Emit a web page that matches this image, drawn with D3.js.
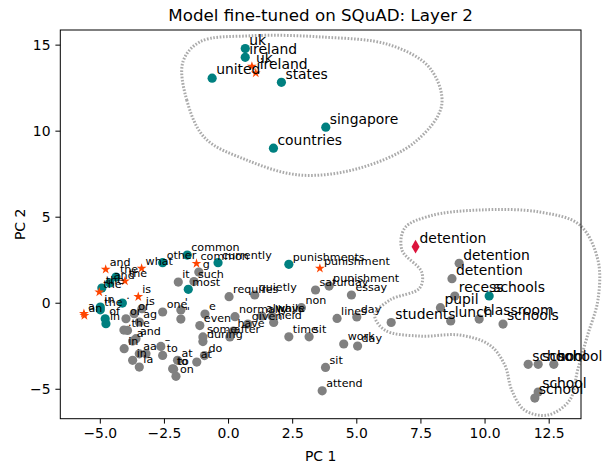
<!DOCTYPE html>
<html><head><meta charset="utf-8">
<script src="https://cdn.jsdelivr.net/npm/d3@7"></script>
<style>body{margin:0;background:#fff} svg{display:block;font-family:"DejaVu Sans",sans-serif}</style>
</head><body><svg id="c" width="605" height="466"></svg>
<script>
// ---- data ----
const words = ["uk","ireland","uk","ireland","united","states","singapore","countries",
"detention","detention","detention","recess","schools","pupil","lunch","classroom","schools","students","school","school","school","school","school",
"punishments","punishment","punishment","saturday","essay","non","lines","day","time","sit","work","day","sit","attend","quietly","requires","currently","common","common","g","such","it","most","other","what","and",
"normally","always","while","given","held","have","e","even","some","after","during","do","at","to","at","to","to","on",
"the","and","the","the","the","in","the","of","in","a","an","is","is",".","or","or","ag","one","'","\"",".","the","and","a","in","a","a","–","in","la"];
const pc1 = [0.67,0.67,0.93,1.08,-0.62,2.08,3.81,1.77,
7.31,9.01,8.73,8.84,10.18,8.28,8.68,9.79,10.72,6.36,11.70,12.09,12.70,12.09,11.96,
2.37,3.58,3.94,3.41,4.81,2.86,4.25,5.02,2.37,3.16,4.51,5.05,3.80,3.67,1.04,0.04,-0.39,-1.59,-1.23,-1.14,-1.33,-1.94,-1.55,-2.55,-3.37,-4.77,
0.27,1.32,1.71,0.77,1.78,0.21,-0.90,-1.10,-0.98,0.07,-0.98,-0.92,-1.22,-2.55,-1.97,-2.16,-2.12,-2.03,
-4.37,-4.61,-4.02,-4.92,-5.02,-4.98,-4.98,-4.79,-4.76,-5.62,-5.60,-3.50,-3.36,-4.12,-3.98,-3.66,-3.46,-2.55,-1.84,-1.84,-4.06,-3.92,-3.59,-3.72,-4.05,-3.46,-3.20,-2.62,-3.72,-3.46];
const pc2 = [14.77,14.26,13.74,13.35,13.05,12.81,10.20,8.98,
3.26,2.29,1.40,0.39,0.39,-0.29,-1.06,-0.95,-1.24,-1.15,-3.58,-3.58,-3.58,-5.19,-5.54,
2.23,2.00,0.97,0.74,0.45,-0.29,-0.91,-0.83,-1.98,-1.98,-2.40,-2.52,-3.76,-5.12,0.45,0.35,2.33,2.77,2.28,1.78,1.23,1.20,0.78,2.33,2.00,1.94,
-0.81,-0.77,-0.77,-1.24,-1.15,-1.65,-0.66,-1.33,-1.99,-1.99,-2.26,-3.07,-3.45,-3.06,-3.35,-3.84,-3.86,-4.28,
1.49,1.15,1.26,0.85,0.62,-0.25,-0.41,-0.93,-1.22,-0.63,-0.75,0.35,-0.35,-0.02,-0.93,-0.64,-1.12,-0.54,-0.42,-0.95,-1.59,-1.61,-2.09,-2.23,-2.67,-2.97,-2.97,-2.54,-3.35,-3.74];
// kind: g = other context, t = related token, s = query word, d = target word
const kinds = ["t","t","s","s","t","t","t","t",
"d","g","g","g","t","g","g","g","g","g","g","g","g","g","g",
"t","s","g","g","g","g","g","g","g","g","g","g","g","g","g","g","t","t","s","g","g","g","t","t","s","s",
"g","g","g","g","g","g","g","g","g","g","g","g","g","g","g","g","g","g",
"t","t","s","t","s","t","t","t","t","s","s","s","g","t","g","g","g","g","g","g","g","g","g","g","g","g","g","g","g","g"];
// cluster membership (1 = inside a highlighted cluster)
const inCluster = words.map((w,i)=> i < 23 ? 1 : 0);
const xTicks = [-5,-2.5,0,2.5,5,7.5,10,12.5];
const yTicks = [-5,0,5,10,15];
const loopUpperX = [-1.76,-1.61,-0.90,0.73,2.80,5.14,7.29,8.33,7.86,6.31,3.58,0.85,-1.10];
const loopUpperY = [13.99,11.78,9.57,8.29,7.42,7.83,9.34,11.49,13.65,14.98,15.45,15.51,15.16];
const loopRightX = [6.31,7.47,7.55,6.78,6.89,7.86,9.81,12.15,13.71,14.42,14.42,14.02,13.63,13.32,12.46,11.56,11.06,10.79,10.20,9.03,7.47,6.11,5.72];
const loopRightY = [0.16,0.85,1.78,3.06,4.34,5.04,5.39,5.27,4.52,2.48,0.16,-1.87,-3.91,-5.66,-6.53,-6.24,-5.08,-3.62,-2.46,-1.88,-1.94,-1.59,-0.72];

// ---- chart ----
const svg = d3.select("#c");
const L = 60.3, R = 581, T = 30, B = 418.7;
const x = d3.scaleLinear().domain([-6.54, 13.76]).range([L, R]);
const y = d3.scaleLinear().domain([-6.74, 15.85]).range([B, T]);
const colors = {g:"#808080", t:"#008080", s:"#ff4500", d:"#dc143c"};

const pts = words.map((w,i)=>({w, x:pc1[i], y:pc2[i], k:kinds[i], c:inCluster[i]}));

const gPts = svg.append("g");
["g","t","s","d"].forEach(k=>{
  pts.filter(p=>p.k===k).forEach(p=>{
    const px = x(p.x), py = y(p.y);
    if (k==="g"||k==="t") {
      gPts.append("circle").attr("cx",px).attr("cy",py).attr("r",4.6).attr("fill",colors[k]);
    } else if (k==="s") {
      gPts.append("path").attr("d", d3.symbol().type(d3.symbolStar).size(30)())
        .attr("transform",`translate(${px},${py})`).attr("fill",colors[k]);
    } else {
      gPts.append("path").attr("d","M0,-6.8L4,0L0,6.8L-4,0Z")
        .attr("transform",`translate(${px},${py})`).attr("fill",colors[k]);
    }
  });
});

// loops
const line = d3.line().x(d=>x(d[0])).y(d=>y(d[1])).curve(d3.curveCatmullRomClosed.alpha(0.5));
[[loopUpperX,loopUpperY],[loopRightX,loopRightY]].forEach(([lx,ly])=>{
  svg.append("path").attr("d", line(lx.map((v,i)=>[v,ly[i]])))
    .attr("fill","none").attr("stroke","#aaaaaa").attr("stroke-width",3)
    .attr("stroke-dasharray","1.6,1.6");
});

// labels
const gTxt = svg.append("g");
pts.forEach(p=>{
  gTxt.append("text").attr("x", x(p.x)+4).attr("y", y(p.y)-3.7)
    .attr("font-size", p.c ? 13.9 : 11.1).attr("fill","#000").text(p.w);
});

// frame
svg.append("rect").attr("x",L).attr("y",T).attr("width",R-L).attr("height",B-T)
  .attr("fill","none").attr("stroke","#000").attr("stroke-width",1);

// axes
const xa = svg.append("g").attr("transform",`translate(0,${B})`)
  .call(d3.axisBottom(x).tickValues(xTicks).tickFormat(d3.format(".1f")).tickSize(4.9).tickPadding(4.9));
const ya = svg.append("g").attr("transform",`translate(${L},0)`)
  .call(d3.axisLeft(y).tickValues(yTicks).tickFormat(d3.format("d")).tickSize(4.9).tickPadding(4.9));
[xa,ya].forEach(a=>{
  a.select(".domain").remove();
  a.selectAll("text").attr("font-size",13.9).attr("font-family","DejaVu Sans").attr("fill","#000");
  a.selectAll("line").attr("stroke","#000");
});
xa.selectAll("text").text(d=> d3.format(".1f")(d).replace("-","\u2212"));
ya.selectAll("text").text(d=> String(d).replace("-","\u2212"));

svg.append("text").attr("x",(L+R)/2).attr("y",461).attr("text-anchor","middle")
  .attr("font-size",13.9).text("PC 1");
svg.append("text").attr("transform",`translate(25,${(T+B)/2}) rotate(-90)`).attr("text-anchor","middle")
  .attr("font-size",13.9).text("PC 2");
svg.append("text").attr("x",(L+R)/2).attr("y",20.5).attr("text-anchor","middle")
  .attr("font-size",16.7).text("Model fine-tuned on SQuAD: Layer 2");
</script></body></html>
